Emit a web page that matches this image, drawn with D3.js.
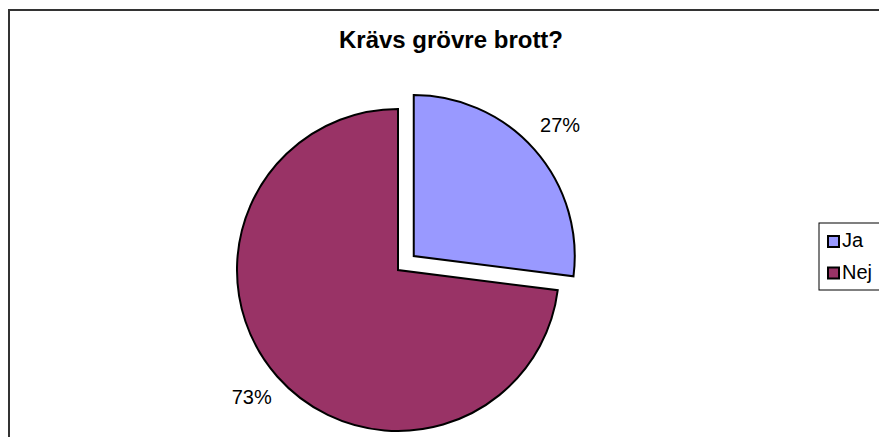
<!DOCTYPE html>
<html lang="sv">
<head>
<meta charset="UTF-8">
<title>Krävs grövre brott?</title>
<script src="https://d3js.org/d3.v7.min.js"></script>
<style>
  body { margin: 0; background: #fff; font-family: Arial, "Liberation Sans", sans-serif; }
</style>
</head>
<body>
<svg width="879" height="437"></svg>
<script>
const labels = ["Ja", "Nej"];
const values = [27, 73];
const colors = ["#9999FF", "#993366"];

const svg = d3.select("svg");
const W = 879, H = 437;

// chart frame (right and bottom fall outside the window)
svg.append("path")
  .attr("d", `M9,${H + 5} L9,10 L${W + 5},10`)
  .attr("fill", "none").attr("stroke", "#333").attr("stroke-width", 2);

svg.append("text")
  .attr("x", 451).attr("y", 48)
  .attr("text-anchor", "middle")
  .attr("font-weight", "bold").attr("font-size", 24)
  .text("Krävs grövre brott?");

const cx = 398, cy = 270, r = 161, explode = 21;
const pie = d3.pie().sort(null).value(d => d);
const arcs = pie(values);
const arc = d3.arc().innerRadius(0).outerRadius(r);
const labelArc = d3.arc().innerRadius(r + 34).outerRadius(r + 34);
const total = d3.sum(values);

const g = svg.append("g").attr("transform", `translate(${cx},${cy})`);

arcs.forEach((a, i) => {
  const mid = (a.startAngle + a.endAngle) / 2;
  const off = i === 0 ? explode : 0;
  const dx = Math.sin(mid) * off, dy = -Math.cos(mid) * off;
  const sg = g.append("g").attr("transform", `translate(${dx},${dy})`);
  sg.append("path")
    .attr("d", arc(a))
    .attr("fill", colors[i])
    .attr("stroke", "#000").attr("stroke-width", 2)
    .attr("stroke-linejoin", "miter");
  const [lx, ly] = labelArc.centroid(a);
  sg.append("text")
    .attr("x", lx).attr("y", ly)
    .attr("text-anchor", "middle").attr("dominant-baseline", "middle")
    .attr("font-size", 20)
    .text(Math.round(a.data / total * 100) + "%");
});

// legend
const lg = svg.append("g").attr("transform", "translate(819,223)");
lg.append("rect").attr("x", 0).attr("y", 0).attr("width", 70).attr("height", 67)
  .attr("fill", "#fff").attr("stroke", "#000").attr("stroke-width", 1);
labels.forEach((l, i) => {
  const y = 13 + i * 31.5;
  lg.append("rect").attr("x", 9).attr("y", y).attr("width", 11).attr("height", 11)
    .attr("fill", colors[i]).attr("stroke", "#000").attr("stroke-width", 2);
  lg.append("text").attr("x", 23).attr("y", y + 6)
    .attr("dominant-baseline", "middle").attr("font-size", 20)
    .text(l);
});
</script>
</body>
</html>
